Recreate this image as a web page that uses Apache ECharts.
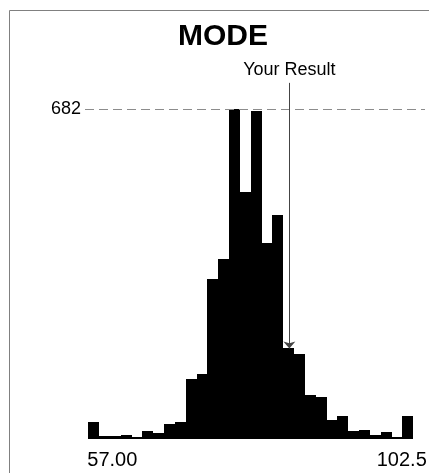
<!DOCTYPE html>
<html><head><meta charset="utf-8">
<script src="https://cdn.jsdelivr.net/npm/echarts@6/dist/echarts.min.js"></script>
<style>html,body{margin:0;padding:0;background:#fff}#c{width:429px;height:473px}</style>
</head><body><div id="c"></div>
<script>
const titleText = 'MODE';
const binStart = 57.0;
const binEnd = 102.5;
const counts = [36, 6, 6, 8, 4, 17, 13, 31, 36, 124, 135, 331, 373, 682, 512, 678, 405, 464, 188, 176, 91, 87, 39, 49, 17, 20, 9, 15, 5, 49];
const modeValue = 682;
const modeLabel = '682';
const yourResult = 85.15;
const yourResultCount = 188;
const yourResultLabel = 'Your Result';
const xTickValues = [57.0, 102.5];
const xTickLabels = ['57.00', '102.5'];

const binW = (binEnd - binStart) / counts.length;
const bins = counts.map((c, i) => [binStart + i * binW, binStart + (i + 1) * binW, c]);
const FONT = 'Liberation Sans';

const chart = echarts.init(document.getElementById('c'), null, {renderer: 'canvas'});
const option = {
  animation: false,
  backgroundColor: '#fff',
  grid: {left: 85, right: 4, top: 52.4, bottom: 33.7},
  xAxis: {type: 'value', min: 56.538, max: 104.138, show: false},
  yAxis: {type: 'value', min: 0, max: 800, show: false},
  series: [
    {
      type: 'custom',
      encode: {x: [0, 1], y: 2},
      data: bins,
      renderItem: function (params, api) {
        const p0 = api.coord([api.value(0), api.value(2)]);
        const p1 = api.coord([api.value(1), 0]);
        const x0 = Math.round(p0[0]), x1 = Math.round(p1[0]);
        const y0 = Math.round(p0[1]), y1 = Math.round(p1[1]);
        return {type: 'rect', shape: {x: x0, y: y0, width: x1 - x0, height: y1 - y0}, style: {fill: '#000'}};
      }
    },
    {
      type: 'line', data: [], silent: true,
      markLine: {
        silent: true, symbol: ['none', 'none'],
        lineStyle: {type: [9, 5], color: '#8c8c8c', width: 1},
        label: {position: 'start', formatter: modeLabel, fontSize: 18, fontFamily: FONT, color: '#000', distance: 4},
        data: [{yAxis: modeValue}]
      }
    },
    {
      type: 'line', data: [], silent: true,
      markLine: {
        silent: true, symbol: ['none', 'arrow'], symbolSize: [9, 7],
        lineStyle: {type: 'solid', color: '#444', width: 1},
        label: {position: 'start', formatter: yourResultLabel, fontSize: 18, fontFamily: FONT, color: '#000', distance: 4},
        data: [[{coord: [yourResult, 737]}, {coord: [yourResult, yourResultCount], itemStyle: {color: '#000', borderColor: '#fff', borderWidth: 1}}]]
      }
    }
  ]
};
chart.setOption(option);

const graphics = [
  {type: 'rect', shape: {x: 9.5, y: 10.5, width: 460, height: 500}, style: {fill: null, stroke: '#808080', lineWidth: 1}, silent: true},
  {type: 'text', x: 223, y: 22, style: {text: titleText, align: 'center', verticalAlign: 'top', font: 'bold 30px "Liberation Sans"', fill: '#000'}}
];
const base = chart.convertToPixel({gridIndex: 0}, [binStart, 0]);
xTickValues.forEach((v, i) => {
  const p = chart.convertToPixel({gridIndex: 0}, [v, 0]);
  const left = i === 0;
  graphics.push({type: 'text', x: left ? p[0] - 1 : p[0] - 36.6, y: base[1] + 11, style: {text: xTickLabels[i], align: 'left', verticalAlign: 'top', font: '20px "Liberation Sans"', fill: '#000'}});
});
chart.setOption({graphic: graphics});
</script></body></html>
